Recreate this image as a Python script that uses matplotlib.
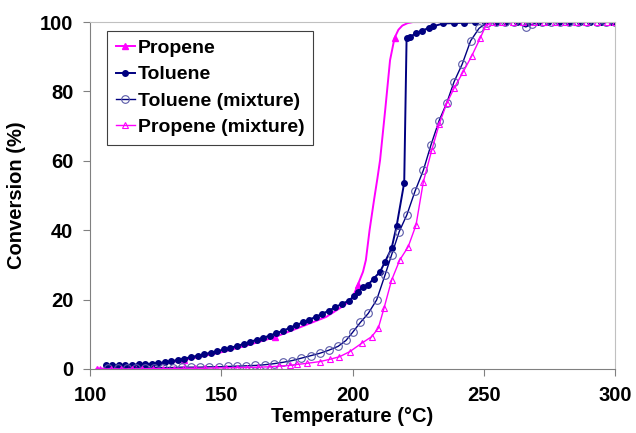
import numpy as np
from matplotlib import pyplot as plt

plt.rcParams['font.family'] = ['Liberation Sans', 'DejaVu Sans']
plt.rcParams['font.weight'] = 'bold'

# Propene (pure) - smooth curve, markers only at a few points
prop_T = [102.5, 110, 120, 130, 136, 140, 150, 160, 170.5, 180, 190, 197, 200, 202,
          204, 205.1, 206.5, 208.2, 209.5, 210.5, 212.5, 214.3, 216, 217.5, 219, 221,
          223, 226, 240, 260, 280, 300]
prop_y = [0, 0.3, 0.8, 1.8, 2.6, 3.2, 4.8, 6.8, 9.2, 12.0, 15.0, 18.4, 20.5, 24.2,
          28, 31.4, 40, 48.7, 55, 60.2, 75, 89, 95.4, 97.8, 99, 99.7,
          100, 100, 100, 100, 100, 100]
prop_marks = [0, 4, 8, 13, 22]

# Toluene (pure)
tol_T = [106, 108.5, 111, 113.5, 116, 118.5, 121, 123.5, 126, 128.5, 131, 133.5, 136,
         138.5, 141, 143.5, 146, 148.5, 151, 153.5, 156, 158.5, 161, 163.5, 166, 168.5,
         171, 173.5, 176, 178.5, 181, 183.5, 186, 188.5, 191, 193.5, 196, 198.5, 200.5,
         202, 204, 206, 208, 210.5, 212.4, 214.9, 216.8, 219.7, 220.6, 221.9, 224,
         226.4, 229, 230.8, 234.6, 238.5, 242.5, 246.5, 250.5, 254.5, 258.5, 262.5,
         266.5, 270.5, 274.5, 278.5, 282.5, 286.5, 290.5, 294.5, 298.7]
tol_y = [1.0, 1.0, 1.0, 1.1, 1.2, 1.3, 1.4, 1.5, 1.7, 1.9, 2.2, 2.6, 3.0,
         3.4, 3.8, 4.2, 4.7, 5.1, 5.6, 6.1, 6.6, 7.2, 7.8, 8.4, 9.0, 9.6,
         10.3, 11.0, 11.8, 12.6, 13.4, 14.2, 15.0, 15.9, 16.8, 17.8, 18.8, 19.6, 21.0,
         22.3, 23.5, 24.3, 26.0, 28.0, 30.9, 34.8, 41.2, 53.7, 95.3, 95.6, 96.8,
         97.5, 98.3, 98.8, 99.6, 99.7, 99.8, 99.9, 100, 100, 100, 100,
         100, 100, 100, 100, 100, 100, 100, 100, 100]

# Toluene (mixture)
tolmix_T = [107, 110.5, 114, 117.5, 121, 124.5, 128, 131.5, 135, 138.5, 142, 145.5, 149,
            152.5, 156, 159.5, 163, 166.5, 170, 173.5, 177, 180.5, 184, 187.5, 191,
            194.5, 197.5, 200, 203, 206, 209.2, 212.4, 214.9, 217.8, 220.7, 223.8, 227,
            229.9, 233, 235.9, 238.7, 241.8, 245, 248.2, 251.1, 254.5, 258, 261.5, 266,
            268.5, 272, 275.5, 279, 282.5, 286, 289.5, 293, 296.5, 300]
tolmix_y = [0.3, 0.3, 0.3, 0.3, 0.3, 0.4, 0.4, 0.4, 0.5, 0.5, 0.5, 0.6, 0.6,
            0.7, 0.8, 0.9, 1.0, 1.2, 1.5, 1.9, 2.4, 3.1, 3.8, 4.5, 5.4,
            6.5, 8.2, 10.5, 13.4, 16.0, 19.9, 27.1, 32.9, 39.6, 44.4, 51.2, 57.3,
            64.6, 71.6, 76.7, 82.8, 87.9, 94.6, 98.2, 99.8, 100, 100, 100, 98.6,
            99.4, 100, 100, 100, 100, 100, 100, 100, 100, 100]

# Propene (mixture)
propmix_T = [104, 108, 112, 116, 120, 124, 128, 132, 136, 140, 144, 148, 152, 156, 160,
             164, 168, 172, 176, 179, 182.5, 187.5, 191.5, 195, 199, 203.5, 207.3, 209.8,
             212, 214.9, 218, 221.2, 224.2, 227, 230.2, 233, 235.9, 238.8, 242.2, 245.4,
             248.6, 250.7, 253, 257, 261, 265, 269, 273, 277, 281, 285, 289, 293, 297, 300]
propmix_y = [0, 0, 0, 0, 0, 0.1, 0.1, 0.1, 0.2, 0.2, 0.2, 0.3, 0.3, 0.4, 0.4,
             0.5, 0.6, 0.8, 1.0, 1.3, 1.6, 2.1, 2.8, 3.5, 5.0, 7.4, 9.3, 11.7,
             17.5, 25.6, 31.4, 35.2, 41.5, 54.0, 63.1, 70.5, 76.6, 81.1, 85.7, 90.2,
             95.3, 98.8, 100, 100, 100, 100, 100, 100, 100, 100, 100, 100, 100, 100, 100]

magenta = "#FF00FF"
navy = "#000080"

fig = plt.figure(figsize=(6.36, 4.33), dpi=100)
ax = fig.add_axes([0.1415, 0.148, 0.8255, 0.801])

ax.plot(prop_T, prop_y, "-^", color=magenta, lw=1.4, ms=4.5, markevery=prop_marks,
        label="Propene")
ax.plot(tol_T, tol_y, "-o", color=navy, lw=1.4, ms=4, label="Toluene")
ax.plot(tolmix_T, tolmix_y, "-o", color=navy, lw=1.0, ms=5.5, mfc="none", mew=0.8,
        mec="#5a5aa8", label="Toluene (mixture)")
ax.plot(propmix_T, propmix_y, "-^", color=magenta, lw=1.0, ms=4.5, mfc="none", mew=0.8,
        label="Propene (mixture)")

ax.set_xlim(100, 300)
ax.set_ylim(0, 100)
ax.set_xticks(np.arange(100, 301, 50))
ax.set_yticks(np.arange(0, 101, 20))
ax.tick_params(direction="out", length=5, color="#808080", labelsize=14.5, pad=7)
for s in ["left", "bottom"]:
    ax.spines[s].set_color("#808080")
for s in ["top", "right"]:
    ax.spines[s].set_color("#c0c0c0")

ax.set_xlabel("Temperature (°C)", fontsize=14.5, fontweight="bold", labelpad=2)
ax.set_ylabel("Conversion (%)", fontsize=14.5, fontweight="bold", labelpad=10)

leg = ax.legend(loc="upper left", bbox_to_anchor=(0.032, 0.975), borderaxespad=0,
                fontsize=14, handlelength=1.0, handletextpad=0.15, labelspacing=0.45,
                borderpad=0.45, fancybox=False, framealpha=1, edgecolor="#404040")
leg.get_frame().set_linewidth(0.8)

plt.savefig("out.png", dpi=100)
